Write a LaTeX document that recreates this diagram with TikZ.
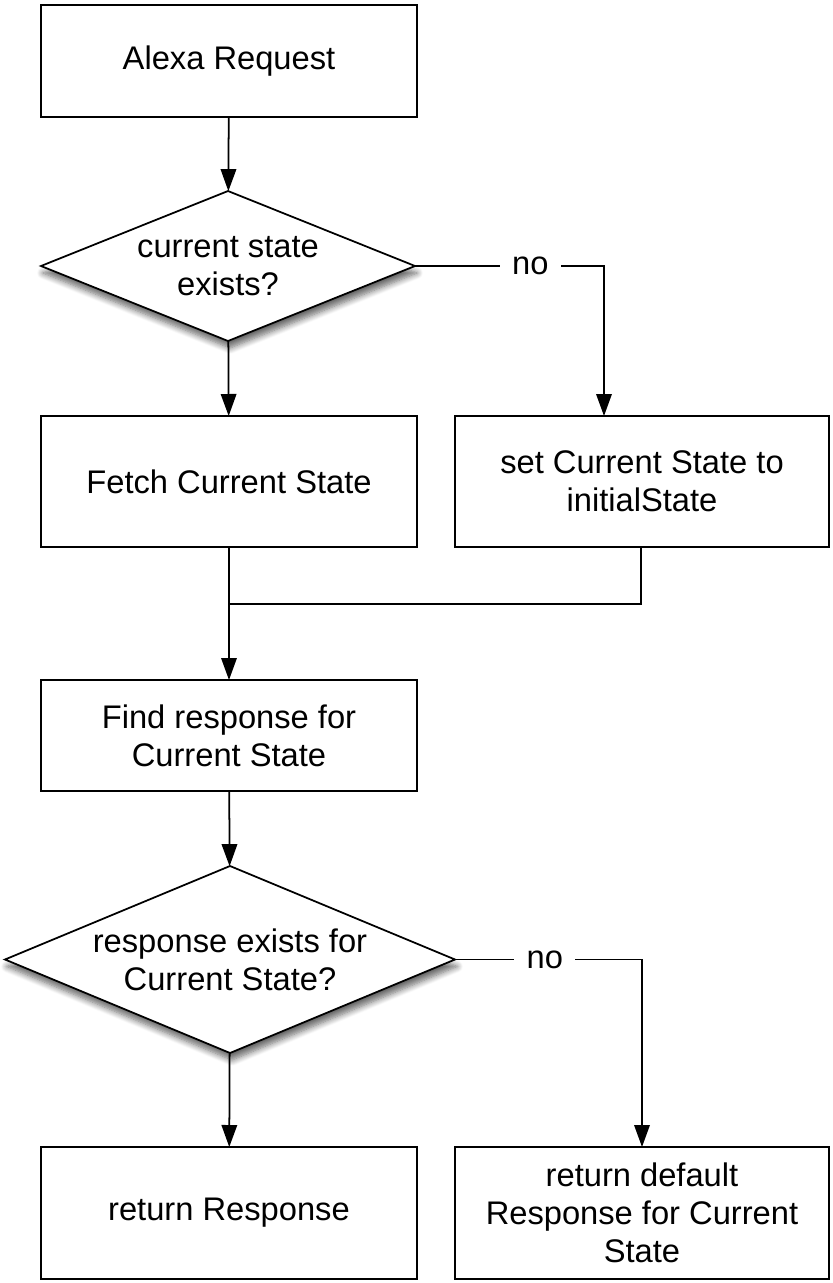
\documentclass[tikz,border=0pt]{standalone}
\usepackage{fontspec}
\setmainfont{Liberation Sans}
\usetikzlibrary{shapes.geometric,arrows.meta,shadows.blur}

\begin{document}
\begin{tikzpicture}[
  every node/.style={font=\fontsize{18.6}{21.6}\selectfont, align=center, outer sep=0pt},
  box/.style={draw, line width=1pt, minimum width=7.52cm, minimum height=2.62cm, inner sep=0pt},
  decision/.style={draw, line width=1pt, fill=white, diamond, inner sep=0pt,
    blur shadow={shadow xshift=0.4mm, shadow yshift=-1.4mm, shadow blur radius=1.2mm, shadow blur steps=8, shadow opacity=60}},
  arrow/.style={line width=1pt, -{Triangle[length=0.44cm, width=0.31cm]}},
  link/.style={line width=1pt},
  answer/.style={fill=white, inner xsep=7pt, inner ysep=3pt}]
\useasboundingbox (0,0) rectangle (16.66,-25.66);

\node[box, minimum height=2.24cm] (alexa) at (4.58,-1.22) {Alexa Request};
\node[decision, aspect=2.49, minimum width=7.48cm, minimum height=3cm] (stateq) at (4.56,-5.32) {current state\\exists?};
\node[box] (fetch) at (4.58,-9.63) {Fetch Current State};
\node[box, minimum width=7.48cm] (setinit) at (12.84,-9.63) {set Current State to\\initialState};
\node[box, minimum height=2.22cm] (find) at (4.58,-14.71) {Find response for\\Current State};
\node[decision, aspect=2.4, minimum width=9cm, minimum height=3.74cm] (respq) at (4.6,-19.19) {response exists for\\Current State?};
\node[box, minimum height=2.64cm] (ret) at (4.58,-24.26) {return Response};
\node[box, minimum width=7.48cm, minimum height=2.64cm] (retdef) at (12.84,-24.26) {return default\\Response for Current\\State};

\coordinate (nobend) at (12.08,-5.32);
\coordinate (merge) at (4.58,-12.08);

\draw[arrow] (alexa) -- (stateq);
\draw[arrow] (stateq) -- (fetch);
\draw[arrow] (stateq.east) -- node[answer, pos=0.61]{no} (nobend) -- (nobend |- setinit.north);
\draw[link] (setinit.south -| 12.82,0) |- (merge);
\draw[arrow] (fetch) -- (find);
\draw[arrow] (find) -- (respq);
\draw[arrow] (respq) -- (ret);
\draw[arrow] (respq.east) -| node[answer, pos=0.24]{no} (retdef.north);
\end{tikzpicture}
\end{document}
